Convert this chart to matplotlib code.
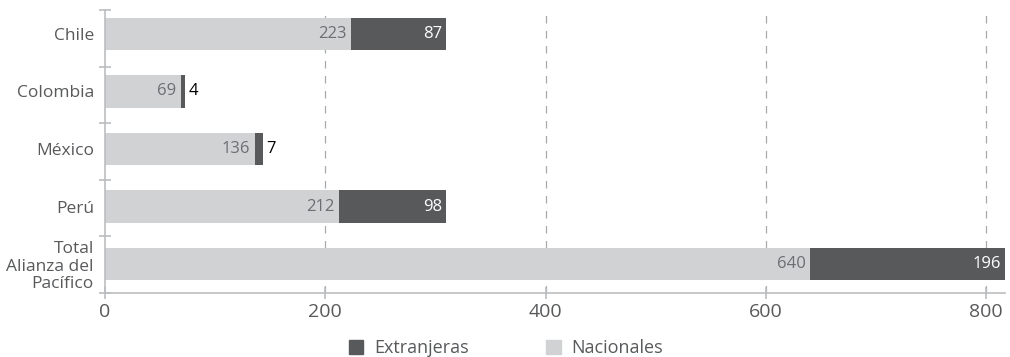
import numpy as np
import matplotlib.pyplot as plt
from matplotlib.patches import Patch

# Data
categories = ['Chile', 'Colombia', 'México', 'Perú', 'Total\nAlianza del\nPacífico']
nacionales = [223, 69, 136, 212, 640]
extranjeras = [87, 4, 7, 98, 196]

light = '#d1d2d4'
dark = '#58595b'
axis_gray = '#bcbdc0'

plt.rcParams['font.family'] = ['Open Sans', 'DejaVu Sans']

fig = plt.figure(figsize=(10.10, 3.57), dpi=100)
ax = fig.add_axes([105 / 1010, 1 - 293 / 357, 900 / 1010, 283 / 357])

pos = list(range(len(categories)))
ax.barh(pos, nacionales, height=0.56, color=light, zorder=2)
ax.barh(pos, extranjeras, left=nacionales, height=0.56, color=dark, zorder=2)

# Value labels
for y, n, e in zip(pos, nacionales, extranjeras):
    ax.text(n - 4, y, str(n), ha='right', va='center', color='#6d6e71', fontsize=12, zorder=3)
    if e < 20:
        ax.text(n + e + 3, y, str(e), ha='left', va='center', color='black', fontsize=12, zorder=3)
    else:
        end = min(n + e, 817)
        ax.text(end - 4, y, str(e), ha='right', va='center', color='white', fontsize=12, zorder=3)

ax.set_xlim(0, 817)
y_top, y_bot = -0.417, 4.504
ax.set_ylim(y_bot, y_top)

ax.set_yticks(pos)
ax.set_yticklabels(categories, fontsize=12.5, color='#58595b', linespacing=1.1)
ax.set_yticks(np.linspace(y_top, y_bot, len(categories) + 1), minor=True)
ax.tick_params(axis='y', which='major', length=0, pad=8)
ax.tick_params(axis='y', which='minor', length=9, direction='inout', color=axis_gray, width=1.2)

ax.set_xticks([0, 200, 400, 600, 800])
ax.tick_params(axis='x', which='major', length=9, direction='inout', color=axis_gray, width=1.2,
               labelsize=14, labelcolor='#58595b', pad=3)

for x in [200, 400, 600, 800]:
    ax.axvline(x, color='#a7a9ac', linestyle=(0, (6, 6)), linewidth=0.9, zorder=1)

for s in ['top', 'right']:
    ax.spines[s].set_visible(False)
for s in ['left', 'bottom']:
    ax.spines[s].set_color(axis_gray)
    ax.spines[s].set_linewidth(1.2)

handles = [Patch(color=dark, label='Extranjeras'), Patch(color=light, label='Nacionales')]
fig.legend(handles=handles, loc='center', bbox_to_anchor=(506 / 1010, 1 - 348 / 357), ncol=2,
           frameon=False, fontsize=13, handlelength=0.8, handleheight=0.8, handletextpad=0.6,
           columnspacing=4.3, labelcolor='#58595b', borderpad=0)

fig.savefig('out.png', dpi=100)
